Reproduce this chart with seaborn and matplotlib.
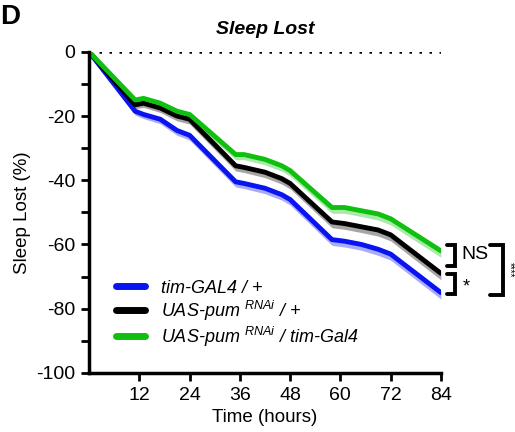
import numpy as np
import pandas as pd
import matplotlib
matplotlib.use("Agg")
import matplotlib.pyplot as plt
import seaborn as sns

# --- data ---
hours = [0, 11, 13, 17, 21, 24, 35, 37, 42, 46, 48, 58, 61, 65, 69, 72, 84]
tim_gal4 = [0, -18.5, -19.5, -21, -24.5, -26, -40.5, -41, -42.5, -44.5, -46,
            -58.5, -59, -60, -61.5, -63, -75]
uas_pum = [0, -16.5, -16, -17.5, -20, -21, -35.5, -36, -37.5, -39.5, -41,
           -53, -53.5, -54.5, -55.5, -57, -69]
uas_tim = [0, -15, -14.5, -16, -18.5, -19.5, -32, -32, -33.5, -35.5, -37,
           -48.5, -48.5, -49.5, -50.5, -52, -62]
sem = [0, 1.2, 1.3, 1.4, 1.5, 1.5, 1.6, 1.6, 1.7, 1.7, 1.7, 1.8, 1.8, 1.8, 1.9, 1.9, 2.0]

labels = ["tim-GAL4 / +",
          "UAS-pum $^{RNAi}$ / +",
          "UAS-pum $^{RNAi}$ / tim-Gal4"]
colors = ["#0a14f0", "#000000", "#10c010"]

df = pd.concat([
    pd.DataFrame({"Time": hours, "Lost": vals, "Genotype": lab})
    for vals, lab in zip([tim_gal4, uas_pum, uas_tim], labels)
])

sns.set_style("ticks")
plt.rcParams['font.family'] = ['Liberation Sans', 'DejaVu Sans']
plt.rcParams['mathtext.fontset'] = 'custom'
plt.rcParams['mathtext.it'] = 'Liberation Sans:italic'
plt.rcParams['mathtext.rm'] = 'Liberation Sans'
plt.rcParams['axes.unicode_minus'] = False
plt.rcParams['text.color'] = 'black'
plt.rcParams['axes.labelcolor'] = 'black'
plt.rcParams['xtick.color'] = 'black'
plt.rcParams['ytick.color'] = 'black'
plt.rcParams['axes.edgecolor'] = 'black'

fig = plt.figure(figsize=(5.15, 4.32), dpi=100)
ax = fig.add_axes([0.173, 0.137, 0.683, 0.743])

# SEM bands
for vals, c in zip([tim_gal4, uas_pum, uas_tim], colors):
    v = np.array(vals)
    s = np.array(sem)
    ax.fill_between(hours, v - s, v + s * 0.4, color=c, alpha=0.35, lw=0)

sns.lineplot(data=df, x="Time", y="Lost", hue="Genotype", palette=colors,
             linewidth=3.5, ax=ax, legend=True)

# zero reference line
ax.plot([0, 84], [0, 0], color="black", linestyle=(0, (1, 3)), lw=1.8, zorder=0)

ax.set_xlim(0, 84)
ax.set_ylim(-100, 0)
ax.set_xticks([12, 24, 36, 48, 60, 72, 84])
ax.set_yticks([0, -20, -40, -60, -80, -100])
ax.set_yticks([-10, -30, -50, -70, -90], minor=True)
ax.tick_params(axis="both", which="both", width=2, length=6, labelsize=14,
               direction="out", pad=4)
for side in ["left", "bottom"]:
    ax.spines[side].set_linewidth(2.5)
sns.despine(ax=ax)

ax.set_xlabel("Time (hours)", fontsize=13.5)
ax.set_ylabel("Sleep Lost (%)", fontsize=13.5)
ax.set_title("Sleep Lost", fontsize=14, fontweight="bold", fontstyle="italic", pad=13)

leg = ax.legend(loc="lower left", bbox_to_anchor=(0.03, 0.025), frameon=False,
                handlelength=1.6, handletextpad=0.9, labelspacing=0.1,
                prop={"size": 13, "style": "italic"})
for h in leg.legend_handles:
    h.set_linewidth(5)

# significance brackets
def bracket(x0, x1, y0, y1):
    ax.plot([x0, x1, x1, x0], [y0, y0, y1, y1], color="black", lw=2.8,
            clip_on=False, solid_joinstyle="miter")

bracket(85.4, 87.5, -60.3, -66.6)
bracket(85.4, 87.5, -69.3, -75.6)
bracket(95.8, 98.8, -60.3, -75.8)
ax.text(89.0, -63.0, "NS", fontsize=14, va="center", ha="left", clip_on=False)
ax.text(89.2, -73.3, "*", fontsize=13, va="center", ha="left", clip_on=False)
ax.text(100.4, -68, "****", fontsize=7, rotation=270, va="center", ha="center",
        clip_on=False)

fig.text(0.0, 0.96, "D", fontsize=20, fontweight="bold", va="center", ha="left")

fig.savefig("out.png", dpi=100)
